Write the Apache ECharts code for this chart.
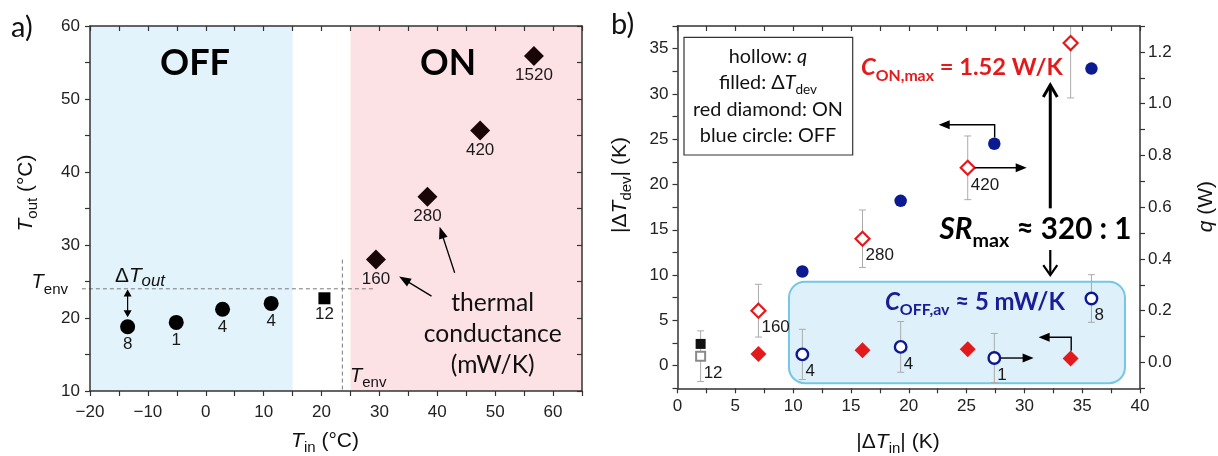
<!DOCTYPE html>
<html><head><meta charset="utf-8">
<script src="https://cdn.jsdelivr.net/npm/echarts@6/dist/echarts.min.js"></script>
<style>html,body{margin:0;padding:0;background:#fff}#c{width:1218px;height:456px}</style>
</head><body><div id="c"></div>
<script>
// ===== DATA: panel a (T_in vs T_out) =====
const offTin  = [-13.5, -5.1, 2.9, 11.3];
const offTout = [18.8, 19.4, 21.2, 22.0];
const offCond = ['8', '1', '4', '4'];
const refTin  = [20.5];
const refTout = [22.7];
const refCond = ['12'];
const onTin   = [29.4, 38.3, 47.4, 56.7];
const onTout  = [28.0, 36.6, 45.7, 55.9];
const onCond  = ['160', '280', '420', '1520'];
const T_ENV = 24;

// ===== DATA: panel b (|dT_in| vs |dT_dev| and q) =====
const offDTin  = [10.8, 19.3, 27.4, 35.8];
const offDTdev = [10.4, 18.2, 24.5, 32.8];
const offQ     = [0.031, 0.060, 0.017, 0.247];
const offQerr  = [0.097, 0.098, 0.095, 0.092];
const offQlab  = ['4', '4', '1', '8'];
const onDTin   = [7.0, 16.0, 25.1, 34.0];
const onDTdev  = [1.3, 1.7, 1.8, 0.8];
const onQ      = [0.200, 0.478, 0.752, 1.234];
const onQerr   = [0.102, 0.111, 0.123, 0.212];
const onQlab   = ['160', '280', '420', ''];
const refDTin  = [2.0];
const refDTdev = [2.4];
const refQ     = [0.024];
const refQerr  = [0.098];
const refQlab  = ['12'];

// ===== tick labels =====
const xTicksA = [-20, -10, 0, 10, 20, 30, 40, 50, 60];
const yTicksA = [10, 20, 30, 40, 50, 60];
const xTicksB = [0, 5, 10, 15, 20, 25, 30, 35, 40];
const yTicksB = [0, 5, 10, 15, 20, 25, 30, 35];
const qTicks  = ['0.0', '0.2', '0.4', '0.6', '0.8', '1.0', '1.2'];

const FA = 'Lato, "Noto Sans", sans-serif';
const FS = '"Liberation Sans", Arial, sans-serif';
const RED = '#e31a1c', NAVY = '#1a1d98', BLUE = '#0c1a92';

function numFmt(list) {
  return v => {
    const t = list.find(t => Math.abs(t - v) < 1e-6);
    if (t === undefined) return '';
    return t < 0 ? '\u2212' + (-t) : String(t);
  };
}
const tickLine = {color: '#333', width: 1.2};
function mkAxis(o) {
  const base = {
    type: 'value', z: 10, splitLine: {show: false},
    axisLine: {show: true, onZero: false, lineStyle: {color: '#333', width: 1.5}},
    axisTick: {show: true, inside: false, length: 5, lineStyle: tickLine},
    axisLabel: {show: true, fontFamily: FS, fontSize: 17, color: '#222'}
  };
  const r = Object.assign({}, base, o);
  r.axisTick = Object.assign({}, base.axisTick, o.axisTick || {});
  r.axisLabel = Object.assign({}, base.axisLabel, o.axisLabel || {});
  return r;
}

const chart = echarts.init(document.getElementById('c'), null, {renderer: 'canvas'});

const labA = (arr, dist) => ({show: true, position: 'bottom', distance: dist,
  fontFamily: FS, fontSize: 17, color: '#1a1a1a', formatter: p => arr[p.dataIndex]});
const labB = (arr) => ({show: true, position: 'inside', align: 'left', verticalAlign: 'middle',
  offset: [3, 17], fontFamily: FS, fontSize: 17, color: '#1a1a1a', formatter: p => arr[p.dataIndex]});

const errData = [];
onDTin.forEach((x, i) => errData.push([x, onQ[i] - onQerr[i], onQ[i] + onQerr[i]]));
offDTin.forEach((x, i) => errData.push([x, offQ[i] - offQerr[i], offQ[i] + offQerr[i]]));
refDTin.forEach((x, i) => errData.push([x, refQ[i] - refQerr[i], refQ[i] + refQerr[i]]));

const option = {
  animation: false,
  backgroundColor: '#fff',
  grid: [
    {left: 90, top: 26, width: 492, height: 365, outerBoundsMode: 'none', containLabel: false},
    {left: 677.5, top: 26, width: 462.5, height: 362.3, outerBoundsMode: 'none', containLabel: false}
  ],
  xAxis: [
    mkAxis({gridIndex: 0, position: 'bottom', min: -20, max: 65, interval: 5,
      axisLabel: {margin: 13, formatter: numFmt(xTicksA)}}),
    mkAxis({gridIndex: 0, position: 'top', min: -20, max: 65, interval: 5,
      axisTick: {inside: true}, axisLabel: {show: false}}),
    mkAxis({gridIndex: 1, position: 'bottom', min: 0, max: 40, interval: 2.5,
      axisLabel: {margin: 10, formatter: numFmt(xTicksB)}}),
    mkAxis({gridIndex: 1, position: 'top', min: 0, max: 40, interval: 2.5,
      axisTick: {inside: true}, axisLabel: {show: false}})
  ],
  yAxis: [
    mkAxis({gridIndex: 0, position: 'left', min: 10, max: 60, interval: 5,
      axisLabel: {margin: 10, formatter: numFmt(yTicksA)}}),
    mkAxis({gridIndex: 0, position: 'right', min: 10, max: 60, interval: 5,
      axisTick: {inside: true}, axisLabel: {show: false}}),
    mkAxis({gridIndex: 1, position: 'left', min: -2.5, max: 37.5, interval: 2.5,
      axisLabel: {margin: 9, formatter: numFmt(yTicksB)}}),
    mkAxis({gridIndex: 1, position: 'right', min: -0.1, max: 1.3, interval: 0.1,
      axisLabel: {margin: 8, formatter: v => { const s = v.toFixed(1); return qTicks.includes(s) ? s : ''; }}})
  ],
  series: [
    // panel a
    {type: 'scatter', name: 'OFF', xAxisIndex: 0, yAxisIndex: 0, z: 5, symbol: 'circle', symbolSize: 15,
      itemStyle: {color: '#000', opacity: 1}, label: labA(offCond, 2),
      data: offTin.map((x, i) => [x, offTout[i]])},
    {type: 'scatter', name: 'ref', xAxisIndex: 0, yAxisIndex: 0, z: 5, symbol: 'rect', symbolSize: 12,
      itemStyle: {color: '#000', opacity: 1}, label: labA(refCond, 2),
      data: refTin.map((x, i) => [x, refTout[i]])},
    {type: 'scatter', name: 'ON', xAxisIndex: 0, yAxisIndex: 0, z: 5, symbol: 'diamond', symbolSize: 20,
      itemStyle: {color: '#1a0606', opacity: 1}, label: labA(onCond, 1),
      data: onTin.map((x, i) => [x, onTout[i]])},
    // panel b error bars on q
    {type: 'custom', name: 'err', xAxisIndex: 2, yAxisIndex: 3, z: 3, clip: true,
      encode: {x: 0, y: [1, 2]},
      renderItem: (params, api) => {
        const x = api.value(0), lo = api.value(1), hi = api.value(2);
        const a = api.coord([x, lo]), b = api.coord([x, hi]);
        const c = 3.5, st = {stroke: '#ababab', lineWidth: 1};
        return {type: 'group', children: [
          {type: 'line', shape: {x1: a[0], y1: a[1], x2: b[0], y2: b[1]}, style: st},
          {type: 'line', shape: {x1: a[0] - c, y1: a[1], x2: a[0] + c, y2: a[1]}, style: st},
          {type: 'line', shape: {x1: b[0] - c, y1: b[1], x2: b[0] + c, y2: b[1]}, style: st}
        ]};
      },
      data: errData},
    // filled: dT_dev (left axis)
    {type: 'scatter', name: 'OFF dev', xAxisIndex: 2, yAxisIndex: 2, z: 5, symbol: 'circle', symbolSize: 12.5,
      itemStyle: {color: BLUE, opacity: 1}, data: offDTin.map((x, i) => [x, offDTdev[i]])},
    {type: 'scatter', name: 'ON dev', xAxisIndex: 2, yAxisIndex: 2, z: 5, symbol: 'diamond', symbolSize: 16,
      itemStyle: {color: RED, opacity: 1}, data: onDTin.map((x, i) => [x, onDTdev[i]])},
    {type: 'scatter', name: 'ref dev', xAxisIndex: 2, yAxisIndex: 2, z: 5, symbol: 'rect', symbolSize: 10,
      itemStyle: {color: '#111', opacity: 1}, data: refDTin.map((x, i) => [x, refDTdev[i]])},
    // hollow: q (right axis)
    {type: 'scatter', name: 'ON q', xAxisIndex: 2, yAxisIndex: 3, z: 6, symbol: 'diamond', symbolSize: 14,
      itemStyle: {color: '#fff', borderColor: RED, borderWidth: 2.2, opacity: 1}, label: labB(onQlab),
      data: onDTin.map((x, i) => [x, onQ[i]])},
    {type: 'scatter', name: 'OFF q', xAxisIndex: 2, yAxisIndex: 3, z: 6, symbol: 'circle', symbolSize: 11.5,
      itemStyle: {color: '#fff', borderColor: BLUE, borderWidth: 2.4, opacity: 1}, label: labB(offQlab),
      data: offDTin.map((x, i) => [x, offQ[i]])},
    {type: 'scatter', name: 'ref q', xAxisIndex: 2, yAxisIndex: 3, z: 6, symbol: 'rect', symbolSize: 9,
      itemStyle: {color: '#fff', borderColor: '#8a8a8a', borderWidth: 2, opacity: 1}, label: labB(refQlab),
      data: refDTin.map((x, i) => [x, refQ[i]])}
  ]
};
chart.setOption(option);

// ===== annotations =====
const mctx = document.createElement('canvas').getContext('2d');
function fontStr(p, s) { return (p.style || 'normal') + ' ' + (p.weight || 'normal') + ' ' + (p.size * s).toFixed(2) + 'px ' + (p.family || FA); }
function mid2base(f) {
  mctx.font = f; mctx.textBaseline = 'alphabetic';
  const a = mctx.measureText('H').actualBoundingBoxAscent;
  mctx.textBaseline = 'middle';
  const b = mctx.measureText('H').actualBoundingBoxAscent;
  mctx.textBaseline = 'alphabetic';
  return a - b;
}
function runWidth(pieces, s) {
  return pieces.reduce((w, p) => { mctx.font = fontStr(p, s); return w + mctx.measureText(p.t).width; }, 0);
}
function fitScale(pieces, w) { return w / runWidth(pieces, 1); }
function textRun(pieces, o) {
  const s = o.scale || (o.fit ? fitScale(pieces, o.fit) : 1);
  const W = runWidth(pieces, s);
  let x0 = o.align === 'center' ? -W / 2 : (o.align === 'right' ? -W : 0);
  const children = [];
  pieces.forEach(p => {
    const f = fontStr(p, s);
    mctx.font = f;
    const w = mctx.measureText(p.t).width;
    children.push({type: 'text', x: x0, y: (p.dy || 0) * s - mid2base(f), z: 30, silent: true,
      style: {text: p.t, font: f, fill: p.color || o.color || '#111', textAlign: 'left', textVerticalAlign: 'middle', align: 'left', verticalAlign: 'middle'}});
    x0 += w;
  });
  return {type: 'group', x: o.x, y: o.y, rotation: o.rotation || 0, z: 30, children};
}
function arrow(pts, o) {
  o = o || {};
  const lw = o.lw || 1.5, col = o.color || '#000', L = o.len || 10, H = o.hw || 4.5;
  const P = pts.map(p => p.slice());
  const els = [];
  function head(tip, from) {
    const dx = tip[0] - from[0], dy = tip[1] - from[1], d = Math.hypot(dx, dy);
    const ux = dx / d, uy = dy / d, bx = tip[0] - ux * L, by = tip[1] - uy * L;
    return {base: [bx + ux * 1, by + uy * 1], poly: [tip, [bx - uy * H, by + ux * H], [bx + uy * H, by - ux * H]]};
  }
  const n = pts.length;
  if (o.end !== false) {
    const h = head(pts[n - 1], pts[n - 2]);
    if (o.open) {
      els.push({type: 'polyline', z: 25, shape: {points: [h.poly[1], h.poly[0], h.poly[2]]}, style: {stroke: col, lineWidth: lw, fill: null}});
    } else {
      els.push({type: 'polygon', z: 25, shape: {points: h.poly}, style: {fill: col}});
      P[n - 1] = h.base;
    }
  }
  if (o.start) {
    const h = head(pts[0], pts[1]);
    els.push({type: 'polygon', z: 25, shape: {points: h.poly}, style: {fill: col}});
    P[0] = h.base;
  }
  els.unshift({type: 'polyline', z: 25, shape: {points: P}, style: {stroke: col, lineWidth: lw, fill: null}});
  return els;
}

const pa = (x, y) => chart.convertToPixel({xAxisIndex: 0, yAxisIndex: 0}, [x, y]);
const pbL = (x, y) => chart.convertToPixel({xAxisIndex: 2, yAxisIndex: 2}, [x, y]);
const pbR = (x, y) => chart.convertToPixel({xAxisIndex: 2, yAxisIndex: 3}, [x, y]);

const G = [];
// panel a shading
function zoneRect(x0, x1, color) {
  const a = pa(x0, 60), b = pa(x1, 10);
  return {type: 'rect', z: 0, silent: true, shape: {x: a[0], y: a[1], width: b[0] - a[0], height: b[1] - a[1]}, style: {fill: color}};
}
G.push(zoneRect(-20, 15, '#e2f3fb'));
G.push(zoneRect(25, 65, '#fde2e5'));
// T_env dashed lines
{
  const h0 = pa(-21.4, T_ENV), h1 = pa(29.3, T_ENV);
  G.push({type: 'line', z: 1, shape: {x1: h0[0], y1: h0[1], x2: h1[0], y2: h1[1]}, style: {stroke: '#7a7a7a', lineWidth: 1, lineDash: [4, 3]}});
  const v0 = pa(23.6, 28), v1 = pa(23.6, 10);
  G.push({type: 'line', z: 1, shape: {x1: v0[0], y1: v0[1], x2: v1[0], y2: v1[1]}, style: {stroke: '#7a7a7a', lineWidth: 1, lineDash: [4, 3]}});
}
// dT_out double arrow
G.push(...arrow([pa(-13.5, 23.9), pa(-13.5, 20.1)], {start: true, lw: 1.2, len: 7, hw: 4}));
// thermal conductance arrows
G.push(...arrow([pa(39.0, 23.0), pa(33.4, 25.7)], {lw: 1.3, len: 12, hw: 4.5}));
G.push(...arrow([pa(43.0, 26.2), pa(40.4, 32.5)], {lw: 1.3, len: 12, hw: 4.5}));

// panel b: blue rounded box
{
  const a = pbL(9.64, 9.27), b = pbL(38.7, -1.94);
  G.push({type: 'rect', z: 1, silent: true, shape: {x: a[0], y: a[1], width: b[0] - a[0], height: b[1] - a[1], r: 16},
    style: {fill: '#def1fa', stroke: '#74c6e6', lineWidth: 2}});
}
// legend box
G.push({type: 'rect', z: 1, silent: true, shape: {x: 684, y: 37.3, width: 168.7, height: 117.7}, style: {fill: '#fff', stroke: '#333', lineWidth: 1.2}});
// panel b arrows
G.push(...arrow([pbL(27.43, 25.2), pbL(27.43, 26.6), pbL(22.59, 26.6)], {lw: 1.4, len: 11, hw: 4.5}));
G.push(...arrow([pbR(25.7, 0.752), pbR(30.2, 0.752)], {lw: 1.4, len: 11, hw: 4.5}));
G.push(...arrow([pbR(27.95, 0.017), pbR(30.8, 0.017)], {lw: 1.4, len: 11, hw: 4.5}));
G.push(...arrow([pbL(34.05, 1.65), pbL(34.05, 3.13), pbL(31.23, 3.13)], {lw: 1.4, len: 11, hw: 4.5}));
G.push(...arrow([pbL(32.24, 17.37), pbL(32.24, 30.98)], {lw: 3, len: 12, hw: 7, open: true}));
G.push(...arrow([pbL(32.24, 12.77), pbL(32.24, 10.0)], {lw: 2.2, len: 10, hw: 7, open: true}));

// texts panel a
G.push(textRun([{t: 'a)', size: 29}], {x: 11, y: 37, align: 'left'}));
G.push(textRun([{t: 'b)', size: 29}], {x: 611, y: 33.5, align: 'left'}));
G.push(textRun([{t: 'OFF', size: 38, weight: 'bold'}], {x: 195, y: 75, align: 'center', fit: 70, color: '#000'}));
G.push(textRun([{t: 'ON', size: 38, weight: 'bold'}], {x: 448, y: 75, align: 'center', fit: 56, color: '#000'}));
{
  const sc = fitScale([{t: 'conductance', size: 24}], 138);
  G.push(textRun([{t: 'thermal', size: 24}], {x: 492.7, y: 310.7, align: 'center', scale: sc}));
  G.push(textRun([{t: 'conductance', size: 24}], {x: 492.7, y: 341.7, align: 'center', scale: sc}));
  G.push(textRun([{t: '(mW/K)', size: 24}], {x: 492.7, y: 372.7, align: 'center', scale: sc}));
}
const tenv = [{t: 'T', size: 20, style: 'italic', family: FS}, {t: 'env', size: 15, family: FS, dy: 5.5}];
G.push(textRun(tenv, {x: 68, y: 288, align: 'right'}));
G.push(textRun(tenv, {x: 350, y: 381.7, align: 'left'}));
G.push(textRun([{t: '\u0394', size: 21, family: FS}, {t: 'T', size: 21, style: 'italic', family: FS}, {t: 'out', size: 17, style: 'italic', family: FS, dy: 4}],
  {x: 115, y: 282, align: 'left', fit: 50}));
// axis titles
G.push(textRun([{t: 'T', size: 21, style: 'italic', family: FS}, {t: 'out', size: 15, family: FS, dy: 5}, {t: ' (\u00b0C)', size: 21, family: FS}],
  {x: 32, y: 193, align: 'center', rotation: Math.PI / 2}));
G.push(textRun([{t: 'T', size: 21, style: 'italic', family: FS}, {t: 'in', size: 15, family: FS, dy: 5}, {t: ' (\u00b0C)', size: 21, family: FS}],
  {x: 325, y: 447, align: 'center'}));
G.push(textRun([{t: '|\u0394', size: 21, family: FS}, {t: 'T', size: 21, style: 'italic', family: FS}, {t: 'dev', size: 15, family: FS, dy: 5}, {t: '| (K)', size: 21, family: FS}],
  {x: 626, y: 185, align: 'center', rotation: Math.PI / 2}));
G.push(textRun([{t: '|\u0394', size: 21, family: FS}, {t: 'T', size: 21, style: 'italic', family: FS}, {t: 'in', size: 15, family: FS, dy: 5}, {t: '| (K)', size: 21, family: FS}],
  {x: 898, y: 448, align: 'center'}));
G.push(textRun([{t: 'q', size: 21, style: 'italic', family: FS}, {t: ' (W)', size: 21, family: FS}],
  {x: 1212, y: 206.7, align: 'center', rotation: Math.PI / 2}));
// legend texts
{
  const sc = fitScale([{t: 'red diamond: ON', size: 19}], 150);
  G.push(textRun([{t: 'hollow: ', size: 19}, {t: 'q', size: 19, style: 'italic'}], {x: 768, y: 63.3, align: 'center', scale: sc}));
  G.push(textRun([{t: 'filled: \u0394', size: 19}, {t: 'T', size: 19, style: 'italic'}, {t: 'dev', size: 13, dy: 4.5}], {x: 768, y: 89.3, align: 'center', scale: sc}));
  G.push(textRun([{t: 'red diamond: ON', size: 19}], {x: 768, y: 115.5, align: 'center', scale: sc}));
  G.push(textRun([{t: 'blue circle: OFF', size: 19}], {x: 768, y: 141.7, align: 'center', scale: sc}));
}
G.push(textRun([{t: 'C', size: 24, weight: 'bold', style: 'italic'}, {t: 'ON,max', size: 16, weight: 'bold', dy: 6}, {t: ' = 1.52 W/K', size: 24, weight: 'bold'}],
  {x: 861, y: 75, align: 'left', fit: 202, color: RED}));
G.push(textRun([{t: 'C', size: 24, weight: 'bold', style: 'italic'}, {t: 'OFF,av', size: 16, weight: 'bold', dy: 6}, {t: ' \u2248 5 mW/K', size: 24, weight: 'bold'}],
  {x: 885, y: 309.5, align: 'left', fit: 180, color: NAVY}));
G.push(textRun([{t: 'SR', size: 30, weight: 'bold', style: 'italic'}, {t: 'max', size: 20, weight: 'bold', dy: 8}, {t: ' \u2248 320 : 1', size: 30, weight: 'bold'}],
  {x: 939.5, y: 239, align: 'left', fit: 192, color: '#000'}));

chart.setOption({graphic: {elements: G}});
</script></body></html>
